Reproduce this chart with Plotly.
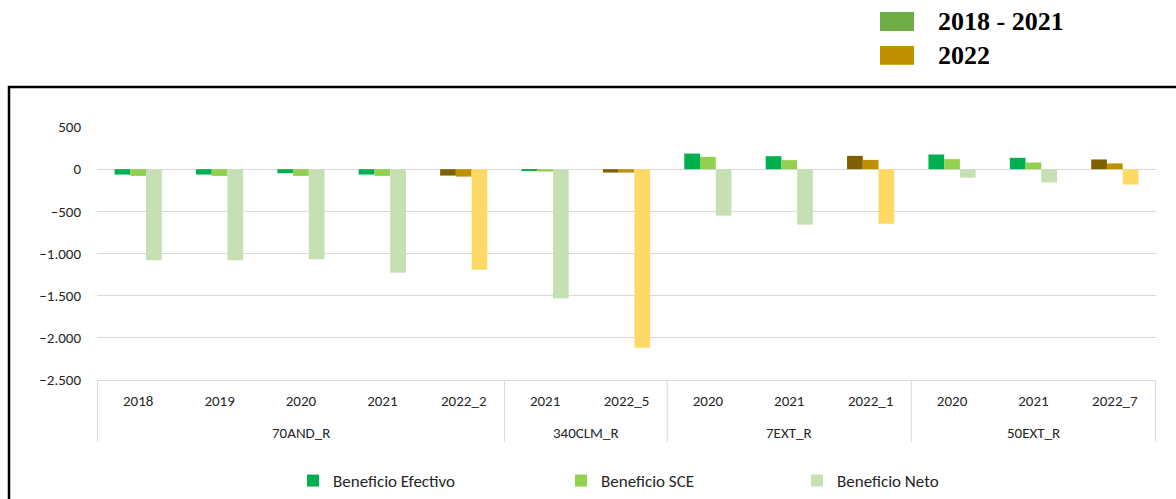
import plotly.graph_objects as go

# ---- data ----
groups = ["70AND_R"] * 5 + ["340CLM_R"] * 2 + ["7EXT_R"] * 3 + ["50EXT_R"] * 3
periods = ["2018", "2019", "2020", "2021", "2022_2",
           "2021", "2022_5",
           "2020", "2021", "2022_1",
           "2020", "2021", "2022_7"]
efectivo = [-64, -64, -48, -64, -76, -16, -40, 185, 154, 158, 174, 135, 115]
sce = [-80, -80, -80, -80, -88, -28, -40, 146, 107, 110, 119, 80, 68]
neto = [-1081, -1080, -1069, -1227, -1192, -1532, -2119, -551, -658, -646, -102, -158, -182]
y_ticks = [500, 0, -500, -1000, -1500, -2000, -2500]

series_names = ["Beneficio Efectivo", "Beneficio SCE", "Beneficio Neto"]
colors_base = ["#00B050", "#92D050", "#C6E0B4"]
colors_2022 = ["#7F6000", "#BF9000", "#FFD966"]
top_legend = ["2018 - 2021", "2022"]
top_colors = ["#70AD47", "#BF9000"]

# ---- geometry helpers (pixels -> paper) ----
W, H = 1176, 499
L, R, T, B = 97, 20, 127, 119
PW, PH = W - L - R, H - T - B


def px(x):
    return (x - L) / PW


def py(y):
    return (H - B - y) / PH


FONT = "Calibri, Carlito, Lato, sans-serif"
TXT = "#262626"

# unique category keys, displayed with the period label only
cats = ["%s|%s" % (g, p) for g, p in zip(groups, periods)]

fig = go.Figure()
is22 = [p.startswith("2022") for p in periods]
legends = ["legend", "legend2", "legend3"]
for i, (name, vals) in enumerate(zip(series_names, [efectivo, sce, neto])):
    cols = [colors_2022[i] if f else colors_base[i] for f in is22]
    fig.add_trace(go.Bar(
        x=cats, y=vals, name=name,
        marker=dict(color=cols, line=dict(width=0)),
        legend=legends[i],
    ))

fig.update_layout(
    width=W, height=H,
    margin=dict(l=L, r=R, t=T, b=B),
    paper_bgcolor="white", plot_bgcolor="white",
    barmode="group", bargap=0.42, bargroupgap=0,
    separators=",.",
    font=dict(family=FONT, size=15, color=TXT),
    xaxis=dict(
        type="category", categoryorder="array", categoryarray=cats,
        tickvals=cats, ticktext=periods, automargin=False,
        showgrid=False, showline=True, linecolor="#D9D9D9", linewidth=1,
        ticks="", ticklabelstandoff=7,
        tickfont=dict(family=FONT, size=15, color=TXT),
    ),
    yaxis=dict(
        range=[-2500, 500], tickvals=y_ticks, tickformat=",d", automargin=False,
        showgrid=True, gridcolor="#D9D9D9", gridwidth=1,
        zeroline=False, showline=False, ticks="",
        ticklabelstandoff=15,
        tickfont=dict(family=FONT, size=15, color=TXT),
    ),
    showlegend=True,
)

legend_x = [293, 561, 797]
for lg, xpx in zip(legends, legend_x):
    fig.update_layout({lg: dict(
        xref="container", yref="container",
        x=xpx / W, xanchor="left", y=(H - 481) / H, yanchor="middle",
        orientation="h", bgcolor="rgba(0,0,0,0)",
        font=dict(family=FONT, size=17, color=TXT),
    )})

# group labels and dividers of the category axis
uniq = []
for g in groups:
    if g not in uniq:
        uniq.append(g)
bounds = [-0.5]
for g in uniq:
    idx = [i for i, gg in enumerate(groups) if gg == g]
    fig.add_annotation(xref="x", yref="paper", x=(idx[0] + idx[-1]) / 2, y=py(433),
                       text=g, showarrow=False, yanchor="middle",
                       font=dict(family=FONT, size=15, color=TXT))
    bounds.append(idx[-1] + 0.5)
for bx in bounds:
    fig.add_shape(type="line", xref="x", yref="paper", x0=bx, x1=bx,
                  y0=py(380), y1=py(441.7), line=dict(color="#D9D9D9", width=1))

# outer chart border
fig.add_shape(type="rect", xref="paper", yref="paper",
              x0=px(9), x1=px(1215), y0=py(540), y1=py(87),
              line=dict(color="black", width=2.5), fillcolor="rgba(0,0,0,0)")

# top legend (period colours)
sq_y = [(12, 31), (46, 64.7)]
txt_y = [21.7, 55.5]
for lab, col, (ya, yb), ty in zip(top_legend, top_colors, sq_y, txt_y):
    fig.add_shape(type="rect", xref="paper", yref="paper",
                  x0=px(880), x1=px(914), y0=py(yb), y1=py(ya),
                  line=dict(width=0), fillcolor=col)
    fig.add_annotation(xref="paper", yref="paper", x=px(936), y=py(ty),
                       xanchor="left", yanchor="middle", showarrow=False,
                       text="<b>%s</b>" % lab,
                       font=dict(family="Liberation Serif, Times New Roman, serif",
                                 size=26, color="black"))

fig.write_html("out.html", config={"displayModeBar": False},
               post_script="document.body.style.margin='0px';document.body.style.overflow='hidden';")
